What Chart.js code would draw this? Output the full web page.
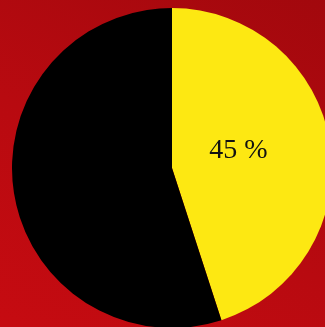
<!DOCTYPE html>
<html>
<head>
<meta charset="utf-8">
<script src="https://cdn.jsdelivr.net/npm/chart.js@4/dist/chart.umd.min.js"></script>
<style>
  html, body { margin: 0; padding: 0; width: 325px; height: 327px; overflow: hidden; }
  body { background: linear-gradient(30deg, #c60b11 0%, #b80a10 45%, #a2080d 100%); position: relative; }
  #wrap { position: absolute; left: 12px; top: 8px; width: 320px; height: 320px; }
</style>
</head>
<body>
<div id="wrap"><canvas id="pie"></canvas></div>
<script>
// valeurs
const labels = ['Oui', 'Non'];
const values = [45, 55];
const colors = ['#fde812', '#000000'];

// texte dans la part jaune
const sliceLabel = {
  id: 'sliceLabel',
  afterDatasetsDraw(chart) {
    const { ctx } = chart;
    const arc = chart.getDatasetMeta(0).data[0];
    const mid = (arc.startAngle + arc.endAngle) / 2;
    const d = arc.outerRadius * 0.42;
    const x = arc.x + Math.cos(mid) * d;
    const y = arc.y + Math.sin(mid) * d - 7;
    ctx.save();
    ctx.fillStyle = '#111';
    ctx.font = '28px "Liberation Serif", "DejaVu Serif", serif';
    ctx.textAlign = 'center';
    ctx.textBaseline = 'middle';
    ctx.fillText(values[0] + ' %', x, y);
    ctx.restore();
  }
};

new Chart(document.getElementById('pie'), {
  type: 'pie',
  data: {
    labels,
    datasets: [{ data: values, backgroundColor: colors, borderWidth: 0 }]
  },
  options: {
    responsive: true,
    maintainAspectRatio: false,
    animation: false,
    layout: { padding: 0 },
    plugins: { legend: { display: false }, tooltip: { enabled: false } }
  },
  plugins: [sliceLabel]
});
</script>
</body>
</html>
